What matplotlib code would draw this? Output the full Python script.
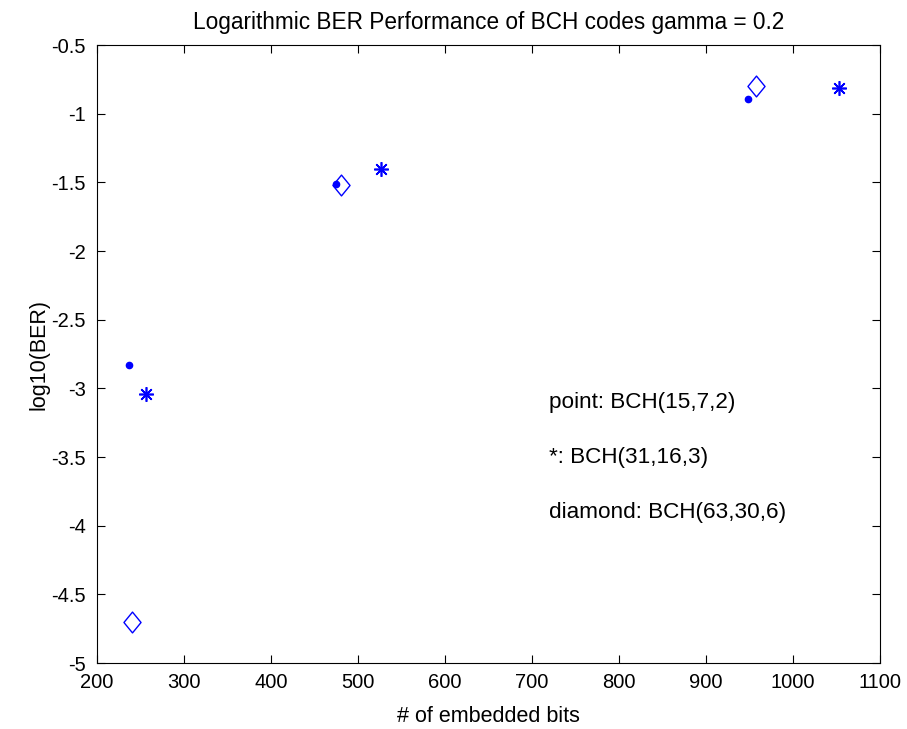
import matplotlib.pyplot as plt
from matplotlib.path import Path

# BCH(15,7,2) -> point marker
bits_15 = [237, 475, 949]
ber_15 = [-2.83, -1.51, -0.89]

# BCH(31,16,3) -> asterisk marker
bits_31 = [256, 527, 1053]
ber_31 = [-3.04, -1.40, -0.81]

# BCH(63,30,6) -> diamond marker
bits_63 = [240, 480, 958]
ber_63 = [-4.70, -1.52, -0.80]

notes = ['point: BCH(15,7,2)', '*: BCH(31,16,3)', 'diamond: BCH(63,30,6)']
note_y = [-3.1, -3.5, -3.9]

plt.rcParams['font.family'] = ['Liberation Sans', 'DejaVu Sans']
plt.rcParams['font.size'] = 12

fig = plt.figure(figsize=(9.07, 7.29), dpi=100)
ax = fig.add_axes([0.107, 0.0905, 0.863, 0.8475])

blue = '#0000ff'
diamond = Path([(0, 1), (0.82, 0), (0, -1), (-0.82, 0), (0, 1)],
               [Path.MOVETO, Path.LINETO, Path.LINETO, Path.LINETO, Path.CLOSEPOLY])

ax.plot(bits_15, ber_15, linestyle='none', marker='o', markersize=4.5,
        color=blue)
ax.plot(bits_31, ber_31, linestyle='none', marker=(8, 2, 0), markersize=10.5,
        color=blue, markeredgewidth=1.2)
ax.plot(bits_63, ber_63, linestyle='none', marker=diamond, markersize=15,
        markerfacecolor='none', markeredgecolor=blue, markeredgewidth=1.0)

for txt, y in zip(notes, note_y):
    ax.text(720, y, txt, va='center', ha='left', fontsize=16.2)

ax.set_xlim(200, 1100)
ax.set_ylim(-5, -0.5)
ax.set_xticks(range(200, 1101, 100))
ax.set_yticks([-5, -4.5, -4, -3.5, -3, -2.5, -2, -1.5, -1, -0.5])
ax.set_yticklabels(['-5', '-4.5', '-4', '-3.5', '-3', '-2.5', '-2', '-1.5', '-1', '-0.5'])
ax.tick_params(direction='in', length=6, top=True, right=True, labeltop=False, labelright=False)
ax.tick_params(axis='x', pad=7.5, labelsize=14.5)
ax.tick_params(axis='y', pad=8, labelsize=14.5)

ax.set_title('Logarithmic BER Performance of BCH codes gamma = 0.2', pad=12, fontsize=16.3)
ax.set_xlabel('# of embedded bits', labelpad=10, fontsize=15.5)
ax.set_ylabel('log10(BER)', labelpad=1, fontsize=15.5)

fig.savefig('out.png', dpi=100)
